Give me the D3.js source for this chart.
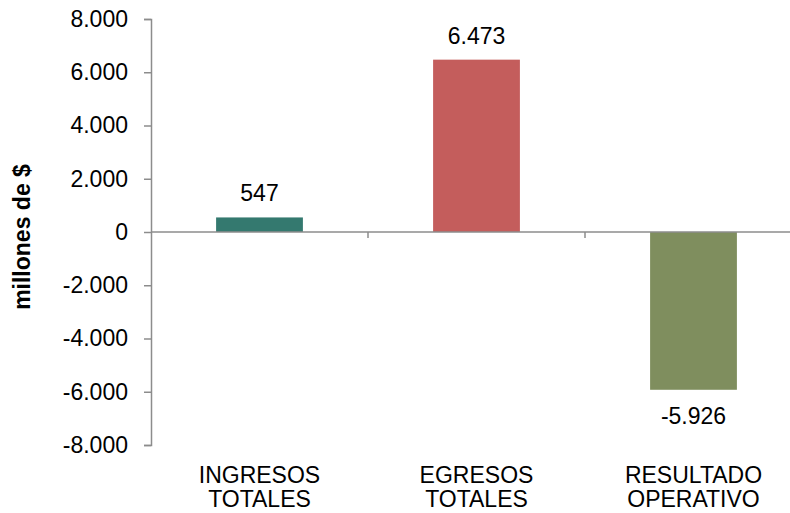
<!DOCTYPE html>
<html>
<head>
<meta charset="utf-8">
<script src="https://cdn.jsdelivr.net/npm/d3@7"></script>
<style>
  body { margin: 0; background: #fff; }
  text { font-family: "Liberation Sans", Arial, sans-serif; fill: #000; }
</style>
</head>
<body>
<div id="chart"></div>
<script>
const width = 790;
const height = 513;

// data
const categories = ['INGRESOS TOTALES', 'EGRESOS TOTALES', 'RESULTADO OPERATIVO'];
const labelLines = [['INGRESOS', 'TOTALES'], ['EGRESOS', 'TOTALES'], ['RESULTADO', 'OPERATIVO']];
const values = [547, 6473, -5926];
const barColors = ['#34796F', '#C45D5C', '#7F8E5E'];
const yTicks = [-8000, -6000, -4000, -2000, 0, 2000, 4000, 6000, 8000];

const fontSize = '23px';

// spanish number format: 6.473
const locale = d3.formatLocale({ decimal: ',', thousands: '.', grouping: [3], currency: ['$', ''], minus: '-' });
const fmt = locale.format(',.0f');

const svg = d3.select('#chart')
    .append('svg')
    .attr('width', width)
    .attr('height', height);

const x = d3.scaleBand()
    .domain(categories)
    .range([151, 802])
    .padding(0);

const y = d3.scaleLinear()
    .domain([-8000, 8000])
    .range([445, 19]);

const barWidth = x.bandwidth() * 0.4;

// y axis
const yAxis = svg.append('g')
    .attr('transform', 'translate(151,0)')
    .call(d3.axisLeft(y).tickValues(yTicks).tickFormat(fmt).tickSize(7).tickPadding(16));

yAxis.select('.domain').attr('stroke', '#8c8c8c').attr('stroke-width', 1.5);
yAxis.selectAll('.tick line').attr('stroke', '#8c8c8c').attr('stroke-width', 1.5);
yAxis.selectAll('.tick text')
    .style('font-size', fontSize)
    .style('font-family', '"Liberation Sans", Arial, sans-serif')
    .attr('fill', '#000');

// bars
svg.selectAll('rect.bar')
    .data(values)
    .enter()
    .append('rect')
    .attr('class', 'bar')
    .attr('x', (d, i) => x(categories[i]) + (x.bandwidth() - barWidth) / 2)
    .attr('y', d => y(Math.max(0, d)))
    .attr('width', barWidth)
    .attr('height', d => Math.abs(y(d) - y(0)))
    .attr('fill', (d, i) => barColors[i]);

// zero line with category ticks
svg.append('line')
    .attr('x1', 151)
    .attr('x2', width)
    .attr('y1', y(0))
    .attr('y2', y(0))
    .attr('stroke', '#8c8c8c')
    .attr('stroke-width', 1.5);

svg.selectAll('line.ctick')
    .data(categories.slice(1))
    .enter()
    .append('line')
    .attr('class', 'ctick')
    .attr('x1', d => x(d))
    .attr('x2', d => x(d))
    .attr('y1', y(0))
    .attr('y2', y(0) + 6)
    .attr('stroke', '#8c8c8c')
    .attr('stroke-width', 1.5);

// value labels
svg.selectAll('text.value')
    .data(values)
    .enter()
    .append('text')
    .attr('class', 'value')
    .attr('x', (d, i) => x(categories[i]) + x.bandwidth() / 2)
    .attr('y', d => d >= 0 ? y(d) - 16 : y(d) + 34)
    .attr('text-anchor', 'middle')
    .style('font-size', fontSize)
    .text(d => fmt(d));

// category labels
const catLabels = svg.selectAll('text.cat')
    .data(labelLines)
    .enter()
    .append('text')
    .attr('class', 'cat')
    .attr('text-anchor', 'middle')
    .style('font-size', fontSize);

catLabels.selectAll('tspan')
    .data((d, i) => d.map(line => ({ line, i })))
    .enter()
    .append('tspan')
    .attr('x', d => x(categories[d.i]) + x.bandwidth() / 2)
    .attr('y', (d, j) => 483 + j * 24)
    .text(d => d.line);

// y title
svg.append('text')
    .attr('transform', 'translate(30,237) rotate(-90)')
    .attr('text-anchor', 'middle')
    .style('font-size', fontSize)
    .style('font-weight', 'bold')
    .text('millones de $');
</script>
</body>
</html>
